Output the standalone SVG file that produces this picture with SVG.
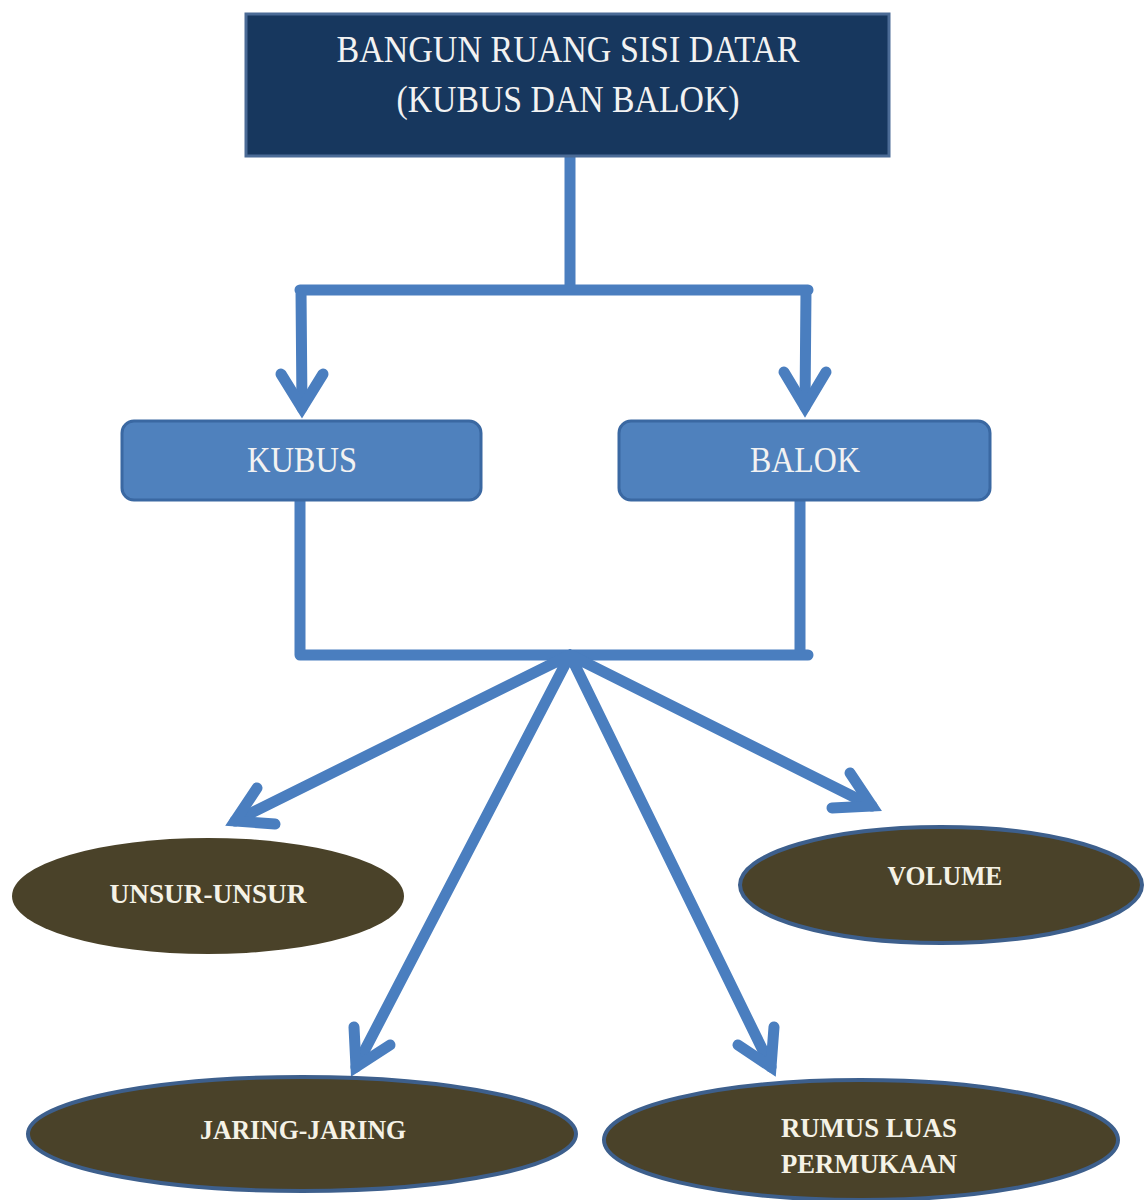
<svg xmlns="http://www.w3.org/2000/svg" width="1146" height="1200" viewBox="0 0 1146 1200">
  <style>
    .conn { fill: none; stroke: #4a7ebf; stroke-width: 11; stroke-linecap: round; stroke-linejoin: round; }
    .head { fill: none; stroke: #4a7ebf; stroke-width: 11; stroke-linecap: round; stroke-linejoin: miter; stroke-miterlimit: 10; }
    .title { font-family: "Liberation Serif", "Times New Roman", serif; font-size: 38px; fill: #f2f2f2; text-anchor: middle; }
    .sub { font-family: "Liberation Serif", "Times New Roman", serif; font-size: 35px; fill: #f2f2f2; text-anchor: middle; }
    .ell { font-family: "Liberation Serif", "Times New Roman", serif; font-size: 27px; font-weight: bold; fill: #f5f2e6; text-anchor: middle; }
    .oval { fill: #4a4229; stroke: #3d5f8c; stroke-width: 4; }
    .rbox { fill: #4f81bd; stroke: #3a68a2; stroke-width: 3; }
  </style>
  <rect width="1146" height="1200" fill="#ffffff"/>

  <g id="connectors">
    <path class="conn" d="M570 157 L570 290 M300 290 L808 290 M301 290 L302 408 M806 290 L805 407"/>
    <path class="head" d="M281 374 L302 408 L323 374"/>
    <path class="head" d="M784 372 L805 407 L826 372"/>
    <path class="conn" d="M300 500 L300 655 M800 500 L800 655 M300 655 L808 655"/>
    <path class="conn" d="M570 655 L235 821 M570 655 L872 806 M570 655 L356 1067 M570 655 L771 1067"/>
    <path class="head" d="M275 824 L235 821 L257 788"/>
    <path class="head" d="M850 773 L872 806 L832 808"/>
    <path class="head" d="M390 1045 L356 1067 L354 1027"/>
    <path class="head" d="M774 1027 L771 1067 L738 1045"/>
  </g>

  <g id="node-root">
    <rect x="246" y="14" width="643" height="142" fill="#17375e" stroke="#4b6b96" stroke-width="3"/>
    <text class="title" x="568" y="62" textLength="463" lengthAdjust="spacingAndGlyphs">BANGUN RUANG SISI DATAR</text>
    <text class="title" x="568" y="112" textLength="343" lengthAdjust="spacingAndGlyphs">(KUBUS DAN BALOK)</text>
  </g>

  <g id="node-kubus">
    <rect class="rbox" x="122" y="421" width="359" height="79" rx="12"/>
    <text class="sub" x="302" y="472" textLength="110" lengthAdjust="spacingAndGlyphs">KUBUS</text>
  </g>

  <g id="node-balok">
    <rect class="rbox" x="619" y="421" width="371" height="79" rx="12"/>
    <text class="sub" x="805" y="472" textLength="110" lengthAdjust="spacingAndGlyphs">BALOK</text>
  </g>

  <g id="node-unsur">
    <ellipse cx="208" cy="896" rx="196" ry="58" fill="#4a4229"/>
    <text class="ell" x="208" y="903" textLength="197" lengthAdjust="spacingAndGlyphs">UNSUR-UNSUR</text>
  </g>

  <g id="node-volume">
    <ellipse class="oval" cx="941" cy="885" rx="201" ry="58"/>
    <text class="ell" x="945" y="885" textLength="115" lengthAdjust="spacingAndGlyphs">VOLUME</text>
  </g>

  <g id="node-jaring">
    <ellipse class="oval" cx="302" cy="1134" rx="274" ry="57"/>
    <text class="ell" x="303" y="1139" textLength="206" lengthAdjust="spacingAndGlyphs">JARING-JARING</text>
  </g>

  <g id="node-rumus">
    <ellipse class="oval" cx="861" cy="1140" rx="257" ry="60"/>
    <text class="ell" x="869" y="1137" textLength="176" lengthAdjust="spacingAndGlyphs">RUMUS LUAS</text>
    <text class="ell" x="869" y="1173" textLength="176" lengthAdjust="spacingAndGlyphs">PERMUKAAN</text>
  </g>
</svg>
